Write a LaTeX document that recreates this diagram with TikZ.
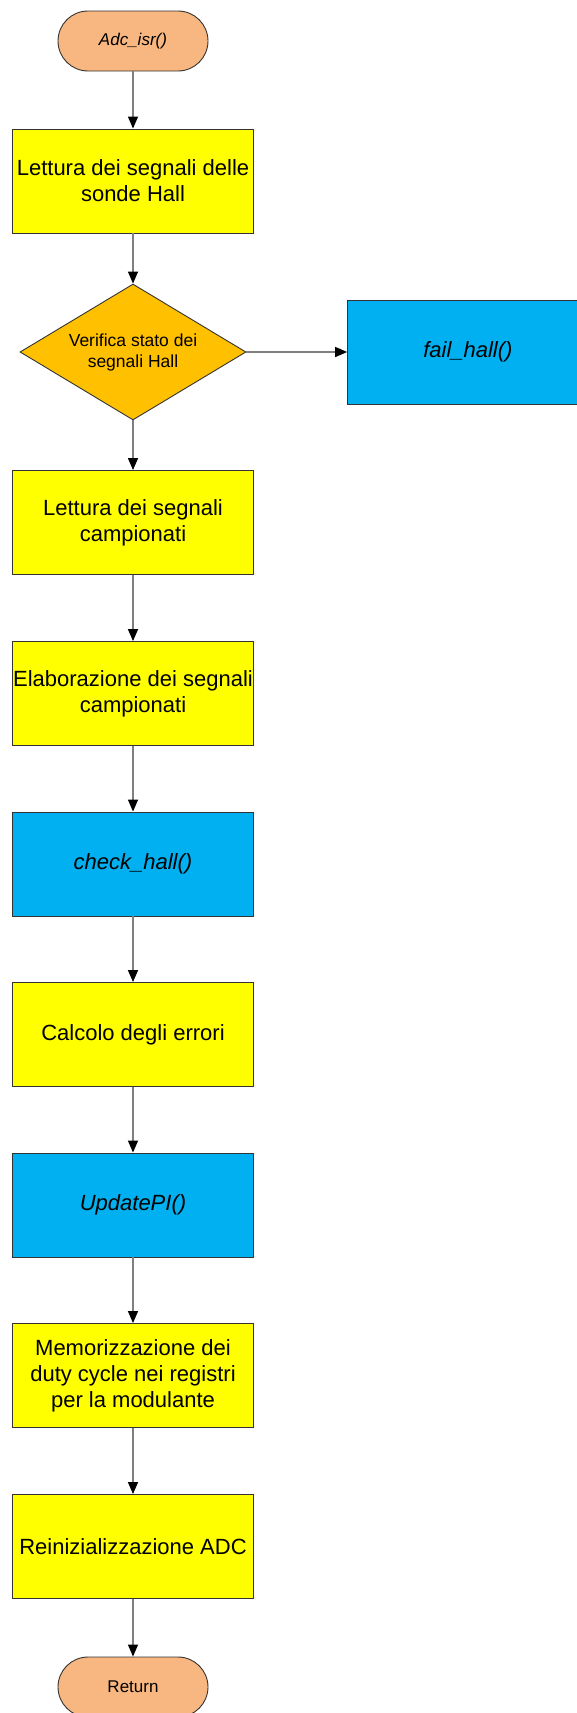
\documentclass[tikz,border=0pt]{standalone}
\usepackage{fontspec}
\setmainfont{Liberation Sans}
\usetikzlibrary{shapes.geometric,arrows.meta}
\definecolor{termfill}{HTML}{F8B780}
\definecolor{procfill}{HTML}{FFFF00}
\definecolor{decfill}{HTML}{FFC000}
\definecolor{callfill}{HTML}{00B0F0}
\definecolor{linkgray}{HTML}{7F7F7F}
\begin{document}
\begin{tikzpicture}[x=1pt,y=-1pt,
  base/.style={draw=black!80, line width=0.9pt, align=center, inner sep=0pt, text=black},
  terminal/.style={base, fill=termfill, rectangle, rounded corners=30pt,
    minimum width=150pt, minimum height=60pt, font=\fontsize{17}{20}\selectfont},
  procbox/.style={base, fill=procfill, rectangle, minimum width=240.6pt,
    minimum height=104pt, font=\fontsize{22}{26}\selectfont},
  callbox/.style={base, fill=callfill, rectangle, minimum width=240.6pt,
    minimum height=104pt, font=\fontsize{22}{26}\itshape\selectfont},
  decision/.style={base, fill=decfill, diamond, aspect=1.66, minimum width=226pt,
    minimum height=136pt, font=\fontsize{17.5}{21}\selectfont},
  link/.style={draw=linkgray, line width=1.4pt,
    -{Triangle[length=12pt,width=10pt,color=black]}}]
\useasboundingbox (0,0) rectangle (576,1713);

% flowchart nodes
\node[terminal] (start) at (133,41) {\itshape Adc\_isr()};
\node[procbox] (hall) at (133,181) {Lettura dei segnali delle\\sonde Hall};
\node[decision] (check) at (133,352) {Verifica stato dei\\segnali Hall};
\node[callbox] (fail) at (467.9,352) {fail\_hall()};
\node[procbox] (read) at (133,522.5) {Lettura dei segnali\\campionati};
\node[procbox] (elab) at (133,693.5) {Elaborazione dei segnali\\campionati};
\node[callbox] (chk) at (133,864) {check\_hall()};
\node[procbox] (err) at (133,1034.5) {Calcolo degli errori};
\node[callbox] (upd) at (133,1205) {UpdatePI()};
\node[procbox] (mem) at (133,1375.5) {Memorizzazione dei\\duty cycle nei registri\\per la modulante};
\node[procbox] (adc) at (133,1546.5) {Reinizializzazione ADC};
\node[terminal] (ret) at (133,1687) {Return};

% connectors
\draw[link] (start) -- (hall);
\draw[link] (hall) -- (check);
\draw[link] (check.east) -- (fail.west);
\draw[link] (check) -- (read);
\draw[link] (read) -- (elab);
\draw[link] (elab) -- (chk);
\draw[link] (chk) -- (err);
\draw[link] (err) -- (upd);
\draw[link] (upd) -- (mem);
\draw[link] (mem) -- (adc);
\draw[link] (adc) -- (ret);
\end{tikzpicture}
\end{document}
